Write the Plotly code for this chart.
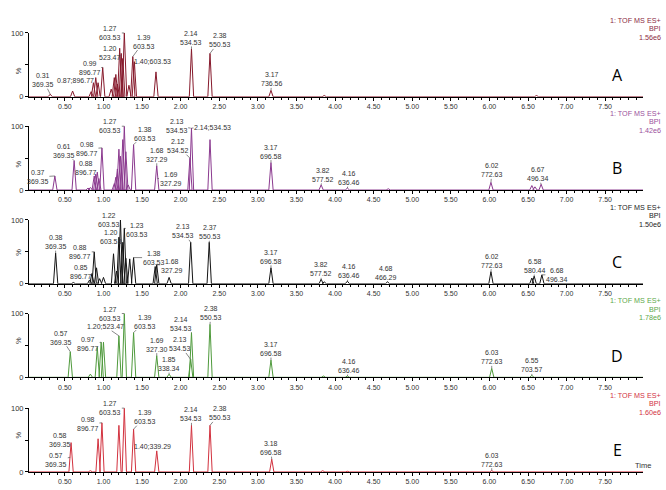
import plotly.graph_objects as go

# ---------------- data ----------------
panel_names = ["A", "B", "C", "D", "E"]
header_scale = ["1.56e6", "1.42e6", "1.50e6", "1.78e6", "1.60e6"]
header_title = "1: TOF MS ES+"
header_mode = "BPI"
x_tick_vals = [0.5, 1.0, 1.5, 2.0, 2.5, 3.0, 3.5, 4.0, 4.5, 5.0, 5.5, 6.0, 6.5, 7.0, 7.5]
x_tick_text = ["0.50", "1.00", "1.50", "2.00", "2.50", "3.00", "3.50", "4.00",
               "4.50", "5.00", "5.50", "6.00", "6.50", "7.00", "7.50"]
y_tick_vals = [0, 50, 100]
y_tick_text = ["0", "", "100"]

# retention time (min) / relative intensity (%)
A_peak_t = [0.31, 0.60, 0.84, 0.87, 0.90, 0.93, 0.99, 1.10, 1.14, 1.16, 1.18, 1.21, 1.23, 1.25,
            1.27, 1.33, 1.38, 1.40, 1.68, 2.14, 2.38, 3.17, 3.86, 6.61]
A_peak_h = [4, 9, 8, 22, 30, 22, 46, 12, 30, 35, 20, 76, 68, 60,
            100, 18, 63, 55, 39, 75, 68, 10, 2, 2]
B_peak_t = [0.37, 0.62, 0.80, 0.83, 0.88, 0.90, 0.92, 0.94, 0.98, 1.14, 1.16, 1.18, 1.20, 1.22,
            1.25, 1.27, 1.29, 1.32, 1.39, 1.69, 2.12, 2.14, 2.38, 3.17, 3.82, 4.16, 4.69, 6.02,
            6.55, 6.59, 6.67]
B_peak_h = [22, 46, 3, 4, 22, 25, 28, 18, 66, 10, 20, 33, 64, 53,
            79, 100, 60, 8, 71, 38, 50, 97, 79, 43, 8, 3, 2, 12,
            7, 5, 9]
C_peak_t = [0.38, 0.61, 0.82, 0.85, 0.88, 0.91, 0.95, 1.00, 1.13, 1.17, 1.20, 1.22, 1.25, 1.27,
            1.29, 1.34, 1.39, 1.67, 1.69, 1.85, 2.13, 2.37, 3.17, 3.82, 3.86, 4.16, 4.68, 6.02,
            6.55, 6.58, 6.68]
C_peak_h = [48, 2, 6, 16, 50, 25, 8, 10, 47, 20, 73, 100, 65, 87,
            40, 39, 41, 27, 30, 10, 65, 65, 25, 7, 3, 4, 3, 19,
            9, 12, 14]
D_peak_t = [0.57, 0.83, 0.92, 0.97, 1.00, 1.20, 1.27, 1.39, 1.69, 1.85, 2.13, 2.14, 2.38, 3.17,
            3.85, 4.16, 6.03, 6.55]
D_peak_h = [40, 5, 47, 55, 55, 65, 100, 70, 34, 5, 28, 70, 83, 27,
            2, 2, 14, 3]
E_peak_t = [0.58, 0.83, 0.93, 0.98, 1.20, 1.27, 1.39, 1.69, 2.14, 2.38, 3.18, 3.84, 4.16, 6.03]
E_peak_h = [46, 2, 52, 77, 73, 100, 67, 33, 73, 73, 20, 2, 1, 2]

# peak labels: text, target time, target intensity
A_lab_text = ["0.31<br>369.35", "0.87;896.77", "0.99<br>896.77", "1.20<br>523.47", "1.27<br>603.53",
              "1.39<br>603.53", "1.40;603.53", "2.14<br>534.53", "2.38<br>550.53", "3.17<br>736.56"]
A_lab_t = [0.31, 0.87, 0.99, 1.21, 1.27, 1.38, 1.40, 2.14, 2.38, 3.17]
A_lab_h = [4, 22, 46, 62, 100, 63, 50, 75, 68, 10]
B_lab_text = ["0.37<br>369.35", "0.61<br>369.35", "0.98<br>896.77", "0.88<br>896.77", "1.27<br>603.53",
              "1.38<br>603.53", "1.68<br>327.29", "1.69<br>327.29", "2.13<br>534.53", "2.14;534.53",
              "2.12<br>534.52", "3.17<br>696.58", "3.82<br>577.52", "4.16<br>636.46", "6.02<br>772.63",
              "6.67<br>496.34"]
B_lab_t = [0.37, 0.62, 0.98, 0.88, 1.27, 1.39, 1.69, 1.70, 2.13, 2.14, 2.12, 3.17, 3.82, 4.16, 6.02, 6.67]
B_lab_h = [22, 46, 66, 22, 100, 71, 38, 18, 97, 97, 50, 43, 8, 3, 12, 9]
C_lab_text = ["0.38<br>369.35", "0.88<br>896.77", "0.85<br>896.77", "1.22<br>603.53", "1.20<br>603.53",
              "1.23<br>603.53", "1.38<br>603.53", "1.68<br>327.29", "2.13<br>534.53", "2.37<br>550.53",
              "3.17<br>696.58", "3.82<br>577.52", "4.16<br>636.46", "4.68<br>466.29", "6.02<br>772.63",
              "6.58<br>580.44", "6.68<br>496.34"]
C_lab_t = [0.38, 0.88, 0.85, 1.22, 1.20, 1.27, 1.39, 1.69, 2.13, 2.37, 3.17, 3.82, 4.16, 4.68, 6.02, 6.58, 6.68]
C_lab_h = [48, 50, 16, 100, 73, 87, 41, 30, 65, 65, 25, 7, 4, 3, 19, 12, 14]
D_lab_text = ["0.57<br>369.35", "0.97<br>896.77", "1.20;523.47", "1.27<br>603.53", "1.39<br>603.53",
              "1.69<br>327.30", "1.85<br>338.34", "2.14<br>534.53", "2.13<br>534.53", "2.38<br>550.53",
              "3.17<br>696.58", "4.16<br>636.46", "6.03<br>772.63", "6.55<br>703.57"]
D_lab_t = [0.57, 0.97, 1.20, 1.27, 1.39, 1.69, 1.85, 2.14, 2.13, 2.38, 3.17, 4.16, 6.03, 6.55]
D_lab_h = [40, 55, 65, 100, 70, 34, 5, 70, 28, 83, 27, 2, 14, 3]
E_lab_text = ["0.58<br>369.35", "0.57<br>369.35", "0.98<br>896.77", "1.27<br>603.53", "1.39<br>603.53",
              "1.40;339.29", "2.14<br>534.53", "2.38<br>550.53", "3.18<br>696.58", "6.03<br>772.63"]
E_lab_t = [0.58, 0.57, 0.98, 1.27, 1.39, 1.40, 2.14, 2.38, 3.18, 6.03]
E_lab_h = [46, 23, 77, 100, 67, 34, 73, 73, 20, 2]

# ---------------- styles / layout ----------------
# label offsets in pixels (text centre relative to target point)
A_lab_off = [(-7, -14), (-18, -2), (-13, 1), (-10, -4), (-14, 0), (11, -15), (18, -3), (0, -11), (10, -13), (1, -11)]
B_lab_off = [(-17, 1), (-10, -10), (-15, 1), (-8, -8), (-14, 0), (11, -11), (0, -11), (13, 0),
             (-14, -2), (21, -1), (-12, -12), (0, -11), (2, -10), (2, -10), (1, -12), (-3, -10)]
C_lab_off = [(0, -11), (-14, 0), (-11, -2), (-11, 0), (-8, 0), (13, 2), (20, 0), (15, 1), (-8, -11),
             (1, -10), (0, -11), (0, -10), (2, -10), (-2, -9), (1, -11), (1, -10), (15, 0)]
D_lab_off = [(-9, -14), (-13, 2), (-13, -9), (-14, 0), (11, -11), (0, -11), (0, -10), (-10, -9),
             (-11, -15), (1, -11), (0, -11), (2, -10), (0, -11), (0, -10)]
E_lab_off = [(-11, -3), (-14, 3), (-14, 1), (-14, 0), (11, -12), (18, -4), (0, -11), (10, -12), (-1, -11), (0, -11)]

line_colors = ["#861A2C", "#8B3A8F", "#151515", "#4F9A3C", "#D2323F"]
head_colors = ["#8B2B3F", "#9A4F9C", "#222222", "#5DA84A", "#D2323F"]

peaks_t = [A_peak_t, B_peak_t, C_peak_t, D_peak_t, E_peak_t]
peaks_h = [A_peak_h, B_peak_h, C_peak_h, D_peak_h, E_peak_h]
labs_text = [A_lab_text, B_lab_text, C_lab_text, D_lab_text, E_lab_text]
labs_t = [A_lab_t, B_lab_t, C_lab_t, D_lab_t, E_lab_t]
labs_h = [A_lab_h, B_lab_h, C_lab_h, D_lab_h, E_lab_h]
labs_off = [A_lab_off, B_lab_off, C_lab_off, D_lab_off, E_lab_off]

W, H = 666, 490
X_RANGE = [0.035, 7.99]
zero_px = [94.5, 189.5, 285.0, 380.3, 476.7]   # pixel row of the 0 % baseline
panel_h_px = 65
x_dom = [29 / W, 643 / W]
HALF_W = 0.028
FONT = "Liberation Sans, Arial, sans-serif"


def spikes(ts, hs):
    xs, ys = [X_RANGE[0]], [0]
    for t, h in sorted(zip(ts, hs)):
        xs += [t - HALF_W, t, t + HALF_W]
        ys += [0, h, 0]
    xs.append(X_RANGE[1])
    ys.append(0)
    return xs, ys


fig = go.Figure()
annotations = []
layout = {}

for i in range(5):
    n = "" if i == 0 else str(i + 1)
    xs, ys = spikes(peaks_t[i], peaks_h[i])
    fig.add_trace(go.Scatter(x=xs, y=ys, mode="lines", xaxis="x" + n, yaxis="y" + n,
                             line=dict(color=line_colors[i], width=1), hoverinfo="skip"))
    z = zero_px[i]
    dom = [1 - z / H, 1 - (z - panel_h_px) / H]
    layout["xaxis" + n] = dict(
        domain=x_dom, range=X_RANGE, anchor="y" + n, showgrid=False, zeroline=False,
        showline=True, linecolor="black", linewidth=1,
        tickvals=x_tick_vals, ticktext=x_tick_text, ticks="outside", ticklen=3,
        tickcolor="black", tickwidth=1, tickfont=dict(size=7, color="#333", family=FONT),
        minor=dict(dtick=0.1, tick0=0, ticks="outside", ticklen=2, tickcolor="black", tickwidth=1),
    )
    layout["yaxis" + n] = dict(
        domain=dom, range=[0, 100], anchor="x" + n, showgrid=False, zeroline=False,
        showline=True, linecolor="black", linewidth=1,
        tickvals=y_tick_vals, ticktext=y_tick_text, ticks="outside", ticklen=3,
        tickcolor="black", tickfont=dict(size=7.5, color="#333", family=FONT),
    )
    # rotated percent sign
    annotations.append(dict(x=12 / W, y=1 - (z - 32) / H, xref="paper", yref="paper", text="%",
                            showarrow=False, textangle=-90, font=dict(size=7.5, color="#333", family=FONT)))
    # header lines
    for k, txt in enumerate([header_title, header_mode, header_scale[i]]):
        annotations.append(dict(x=663 / W, y=1 - (z - 78.2 + 8.7 * k) / H, xref="paper", yref="paper",
                                text=txt, showarrow=False, xanchor="right", yanchor="middle",
                                font=dict(size=7.2, color=head_colors[i], family=FONT)))
    # panel letter
    annotations.append(dict(x=617 / W, y=1 - (z - 22) / H, xref="paper", yref="paper",
                            text=panel_names[i], showarrow=False, xanchor="center", yanchor="middle",
                            font=dict(size=16, color="black", family="Open Sans, sans-serif")))
    # peak labels
    for txt, t, h, (ax, ay) in zip(labs_text[i], labs_t[i], labs_h[i], labs_off[i]):
        annotations.append(dict(x=t, y=h, xref="x" + n, yref="y" + n, text=txt, showarrow=True,
                                arrowhead=0, arrowwidth=0.7, arrowcolor="#555", ax=ax, ay=ay,
                                standoff=0, align="center", borderpad=0,
                                font=dict(size=7, color="#333", family=FONT)))

annotations.append(dict(x=653 / W, y=1 - 477 / H, xref="paper", yref="paper", text="Time",
                        showarrow=False, font=dict(size=7.5, color="#333", family=FONT)))

fig.update_layout(width=W, height=H, margin=dict(l=0, r=0, t=0, b=0), showlegend=False,
                  paper_bgcolor="white", plot_bgcolor="white", annotations=annotations, **layout)
fig.write_html("out.html", config={"displayModeBar": False},
               post_script="document.body.style.margin='0';document.body.style.padding='0';")
